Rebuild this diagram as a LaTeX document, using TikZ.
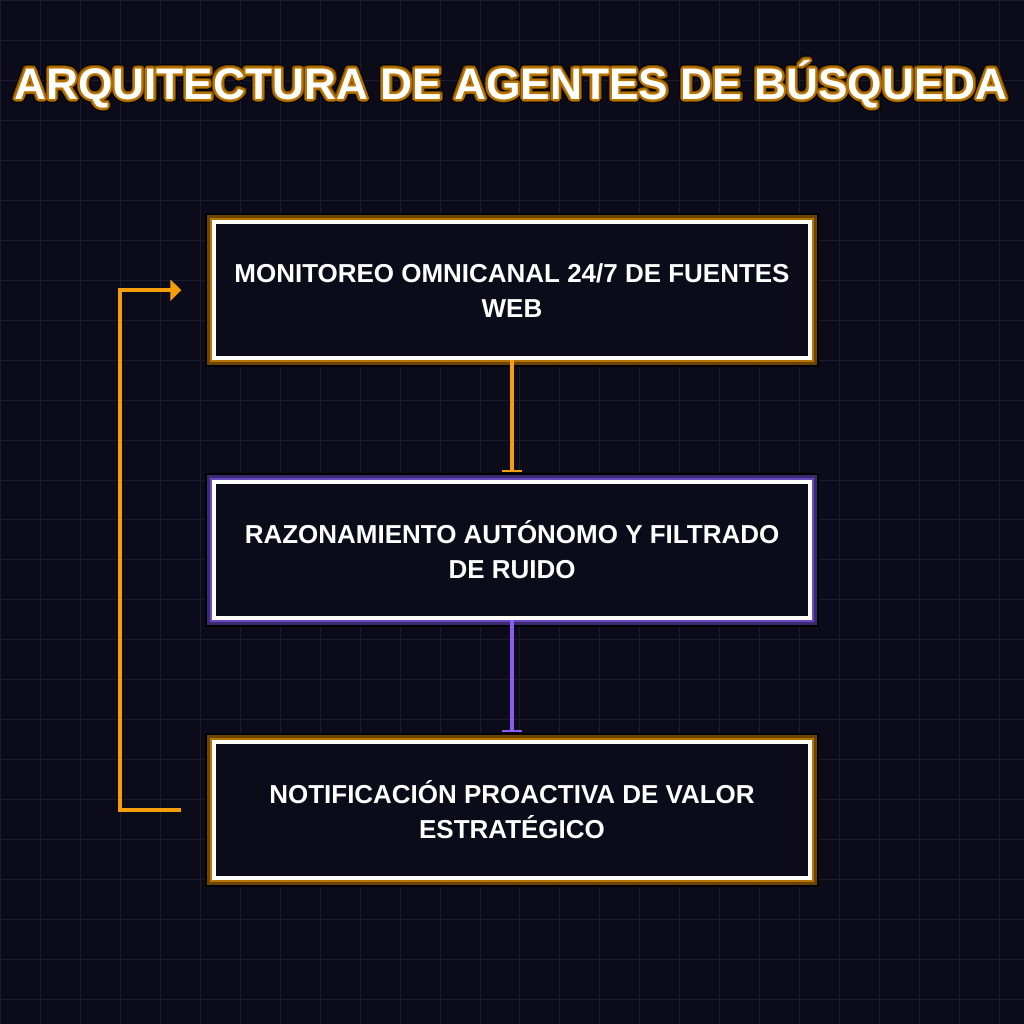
\documentclass[tikz,border=0pt]{standalone}
\usepackage{fontspec}
\setmainfont{Liberation Sans}
\usetikzlibrary{arrows.meta, calc}

\definecolor{bgnight}{HTML}{0B0B19}
\definecolor{gridline}{HTML}{1C1B30}
\definecolor{amber}{HTML}{F59E0B}
\definecolor{amberdark}{HTML}{6B4400}
\definecolor{amberglow}{HTML}{B87300}
\definecolor{violet}{HTML}{8B5CF6}
\definecolor{violetdark}{HTML}{3A2A70}
\definecolor{violetglow}{HTML}{6A48C0}

\begin{document}
\begin{tikzpicture}[x=1pt, y=-1pt,
  stage/.style={draw=white, line width=4pt, fill=bgnight, text=white,
    minimum width=596pt, minimum height=136pt, inner sep=0pt, outer sep=0pt,
    align=center, font=\fontsize{26}{35}\selectfont\bfseries},
  ambergl/.style={preaction={draw=black, line width=18pt},
    preaction={draw=amberdark, line width=14pt},
    preaction={draw=amberglow, line width=8pt}},
  violetgl/.style={preaction={draw=black, line width=18pt},
    preaction={draw=violetdark, line width=14pt},
    preaction={draw=violetglow, line width=8pt}},
  flow/.style={line width=3.6pt, shorten <=2pt, shorten >=10pt,
    -{Bar[width=21pt, line width=2pt]}},
  feedline/.style={draw=amber, line width=4pt,
    -{Triangle[length=11pt, width=21pt]}},
  headline/.style={anchor=base, inner sep=0pt, font=\fontsize{44.3}{50}\selectfont\bfseries}]

  % background and grid
  \fill[bgnight] (0,0) rectangle (1024,1024);
  \draw[gridline, line width=1pt] (0,0) grid[step=40pt] (1024,1024);
  \useasboundingbox (0,0) rectangle (1024,1024);

  % title with glow
  \foreach \r/\c in {4/black, 3/amberdark, 2/amberglow}
    \foreach \a in {0,30,...,330}
      \node[headline, text=\c] (halo-\r-\a) at ($(511,99)+(\a:\r)$) {ARQUITECTURA DE AGENTES DE BÚSQUEDA};
  \node[headline, text=white] (title) at (511,99) {ARQUITECTURA DE AGENTES DE BÚSQUEDA};

  % stages
  \node[stage, ambergl]  (mon) at (512,290) {MONITOREO OMNICANAL 24/7 DE FUENTES\\WEB};
  \node[stage, violetgl] (raz) at (512,550) {RAZONAMIENTO AUTÓNOMO Y FILTRADO\\DE RUIDO};
  \node[stage, ambergl]  (notif) at (512,810) {NOTIFICACIÓN PROACTIVA DE VALOR\\ESTRATÉGICO};

  % connectors
  \draw[flow, amber]  (mon.south) -- (raz.north);
  \draw[flow, violet] (raz.south) -- (notif.north);
  \draw[feedline] ([xshift=-33pt]notif.west) -- ++(-61,0) |- ([xshift=-33pt]mon.west);
\end{tikzpicture}
\end{document}
